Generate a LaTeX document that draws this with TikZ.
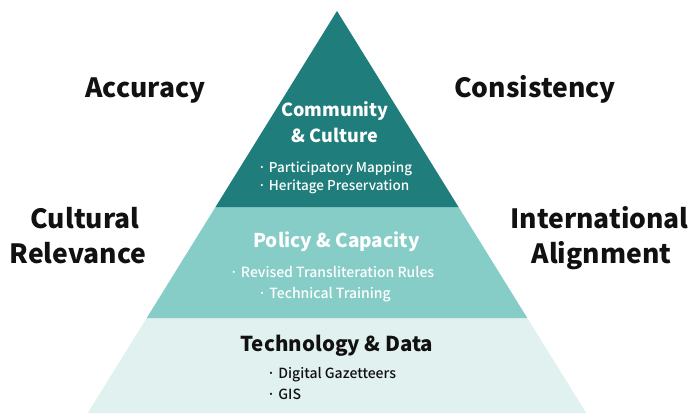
\documentclass[tikz,border=0pt]{standalone}
\usepackage{fontspec}
\setmainfont{Noto Sans CJK KR}
\newfontfamily\medfont{Noto Sans CJK KR Medium}
\definecolor{topteal}{HTML}{1F7D7B}
\definecolor{midteal}{HTML}{86CDC8}
\definecolor{lowteal}{HTML}{E0F1F0}
\definecolor{ink}{HTML}{111111}
\begin{document}
\begin{tikzpicture}[x=1pt,y=-1pt,
  big/.style={font=\fontsize{26.5}{30}\selectfont\bfseries, text=ink, inner sep=0pt, anchor=base},
  head/.style={font=\fontsize{18.5}{21}\selectfont\bfseries, inner sep=0pt, anchor=base},
  item/.style={font=\medfont\fontsize{14}{16}\selectfont, inner sep=0pt, anchor=base}]
\useasboundingbox (0,0) rectangle (689,418);
\fill[white] (0,0) rectangle (689,418);
% pyramid bands
\fill[lowteal] (146.7,318) -- (527.3,318) -- (586.2,413) -- (87.8,413) -- cycle;
\fill[midteal] (215.5,207) -- (458.5,207) -- (527.3,318) -- (146.7,318) -- cycle;
\fill[topteal] (337,11) -- (458.5,207) -- (215.5,207) -- cycle;
% outer labels
\node[big] (acc) at (145.5,97) {Accuracy};
\node[big] (con) at (535,97) {Consistency};
\node[big] (cul1) at (85,228) {Cultural};
\node[big] (cul2) at (78,263) {Relevance};
\node[big] (int1) at (599.5,228) {International};
\node[big] (int2) at (601.5,263) {Alignment};
% top band
\node[head, text=white, font=\fontsize{18}{21}\selectfont\bfseries] (c1) at (335,116) {Community};
\node[head, text=white, font=\fontsize{18}{21}\selectfont\bfseries] (c2) at (335,142) {\& Culture};
\node[item, text=white, anchor=base west, font=\medfont\fontsize{13.5}{16}\selectfont] (c3) at (258,172) {· Participatory Mapping};
\node[item, text=white, anchor=base west, font=\medfont\fontsize{13.5}{16}\selectfont] (c4) at (258,190) {· Heritage Preservation};
% middle band
\node[head, text=white, font=\fontsize{19}{21}\selectfont\bfseries] (p1) at (336.5,247) {Policy \& Capacity};
\node[item, text=white] (p2) at (332,277) {· Revised Transliteration Rules};
\node[item, text=white] (p3) at (324.5,298) {· Technical Training};
% bottom band
\node[head, text=ink, font=\fontsize{20.5}{23}\selectfont\bfseries] (t1) at (337,351) {Technology \& Data};
\node[item, text=ink, anchor=base west] (t2) at (267,378) {· Digital Gazetteers};
\node[item, text=ink, anchor=base west] (t3) at (267,399) {· GIS};
\end{tikzpicture}
\end{document}
